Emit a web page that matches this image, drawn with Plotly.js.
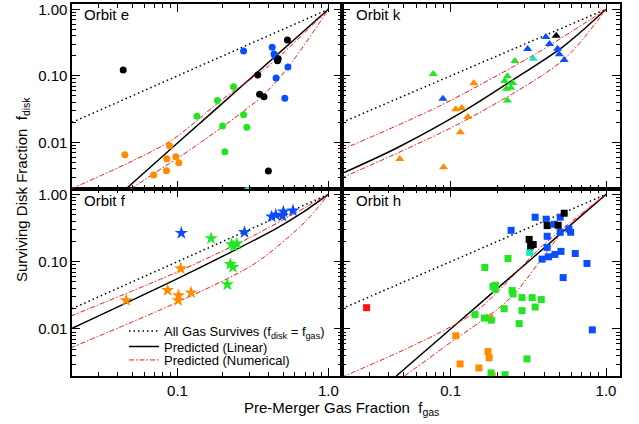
<!DOCTYPE html>
<html>
<head>
<meta charset="utf-8">
<script src="https://cdn.plot.ly/plotly-3.0.1.min.js"></script>
<style>html,body{margin:0;padding:0;background:#fff;}#chart{width:639px;height:424px;}</style>
</head>
<body>
<div id="chart"></div>
<script>
// ---------- DATA ----------
// Reference 1:1 line (all gas survives)
const oneToOneX = [0.02, 1.0];
const oneToOneY = [0.02, 1.0];

// ----- Orbit e (circles) -----
const eBlackX = [0.0437, 0.535, 0.34, 0.465, 0.46, 0.35, 0.374, 0.40];
const eBlackY = [0.123, 0.346, 0.103, 0.18, 0.168, 0.053, 0.0487, 0.00373];
const eBlueX = [0.274, 0.424, 0.436, 0.443, 0.539, 0.45, 0.514];
const eBlueY = [0.237, 0.269, 0.213, 0.194, 0.136, 0.093, 0.046];
const eGreenX = [0.235, 0.184, 0.1345, 0.199, 0.274, 0.288, 0.206];
const eGreenY = [0.0688, 0.0425, 0.0247, 0.0177, 0.0261, 0.0169, 0.00728];
const eCyanX = [0.29];
const eCyanY = [0.0019];
const eOrangeX = [0.0448, 0.0885, 0.0849, 0.0975, 0.102, 0.0845, 0.0695];
const eOrangeY = [0.00656, 0.00895, 0.00571, 0.00612, 0.00497, 0.00377, 0.00325];
const eLinX = [0.0455, 0.1, 0.3, 1.0];
const eLinY = [0.002, 0.0098, 0.089, 1.0];
const eNumUpX = [0.0196, 0.0885, 0.2, 0.4, 0.7, 1.0];
const eNumUpY = [0.002, 0.0103, 0.045, 0.14, 0.45, 1.0];
const eNumLoX = [0.049, 0.0703, 0.13, 0.361, 0.544, 1.0];
const eNumLoY = [0.002, 0.00345, 0.00865, 0.0487, 0.137, 1.0];

// ----- Orbit k (triangles) -----
const kBlackX = [0.478];
const kBlackY = [0.402];
const kBlueX = [0.41, 0.433, 0.313, 0.488, 0.50, 0.538, 0.0892];
const kBlueY = [0.384, 0.301, 0.253, 0.256, 0.211, 0.173, 0.0455];
const kCyanX = [0.34];
const kCyanY = [0.181];
const kGreenX = [0.259, 0.0773, 0.232, 0.223, 0.251, 0.244, 0.229, 0.232];
const kGreenY = [0.1675, 0.107, 0.0986, 0.0838, 0.0782, 0.0665, 0.0643, 0.0425];
const kOrangeX = [0.141, 0.108, 0.118, 0.129, 0.1155, 0.0471, 0.0901];
const kOrangeY = [0.0774, 0.0315, 0.033, 0.0242, 0.0142, 0.00565, 0.00425];
const kLinX = [0.0197, 0.0447, 0.12, 0.246, 0.53, 1.0];
const kLinY = [0.00336, 0.00818, 0.029, 0.0838, 0.275, 1.0];
const kNumUpX = [0.0197, 0.0849, 0.357, 1.0];
const kNumUpY = [0.0077, 0.0353, 0.218, 1.0];
const kNumLoX = [0.0197, 0.12, 0.53, 1.0];
const kNumLoY = [0.0029, 0.0205, 0.173, 1.0];

// ----- Orbit f (stars) -----
const fBlueX = [0.106, 0.278, 0.421, 0.448, 0.503, 0.496, 0.582];
const fBlueY = [0.266, 0.273, 0.466, 0.494, 0.553, 0.478, 0.573];
const fGreenX = [0.167, 0.228, 0.247, 0.236, 0.224, 0.233, 0.214];
const fGreenY = [0.222, 0.181, 0.1845, 0.170, 0.0918, 0.0828, 0.0457];
const fOrangeX = [0.105, 0.086, 0.123, 0.1016, 0.101, 0.0457];
const fOrangeY = [0.0792, 0.0376, 0.0347, 0.0316, 0.0266, 0.0266];
const fLinX = [0.0196, 0.1, 0.228, 0.45, 0.668, 1.0];
const fLinY = [0.01, 0.056, 0.14, 0.31, 0.53, 1.0];
const fNumUpX = [0.0196, 0.106, 0.326, 1.0];
const fNumUpY = [0.0155, 0.0746, 0.249, 1.0];
const fNumLoX = [0.0196, 0.1, 0.326, 0.703, 1.0];
const fNumLoY = [0.00524, 0.025, 0.094, 0.393, 1.0];

// ----- Orbit h (squares) -----
const hRedX = [0.0288];
const hRedY = [0.0207];
const hBlackX = [0.538, 0.418, 0.492, 0.32, 0.327, 0.34];
const hBlackY = [0.524, 0.343, 0.347, 0.214, 0.172, 0.18];
const hCyanX = [0.323];
const hCyanY = [0.137];
const hBlueX = [0.35, 0.412, 0.464, 0.507, 0.245, 0.577, 0.507, 0.592, 0.418, 0.418, 0.513, 0.469, 0.427, 0.388, 0.634, 0.754, 0.53, 0.816];
const hBlueY = [0.457, 0.427, 0.359, 0.457, 0.292, 0.305, 0.273, 0.273, 0.238, 0.163, 0.142, 0.128, 0.118, 0.109, 0.132, 0.094, 0.058, 0.0097];
const hGreenX = [0.234, 0.166, 0.1875, 0.194, 0.193, 0.249, 0.252, 0.288, 0.335, 0.383, 0.35, 0.288, 0.221, 0.1435, 0.165, 0.183, 0.276, 0.31, 0.182, 0.224];
const hGreenY = [0.1116, 0.0819, 0.043, 0.0446, 0.0385, 0.0372, 0.0331, 0.0292, 0.0292, 0.0273, 0.0212, 0.0187, 0.02, 0.0163, 0.0145, 0.0135, 0.012, 0.00359, 0.00222, 0.00209];
const hOrangeX = [0.178, 0.108, 0.174, 0.177, 0.115, 0.152, 0.185];
const hOrangeY = [0.0147, 0.00792, 0.00461, 0.00372, 0.00302, 0.00263, 0.00202];
const hLinX = [0.0447, 0.1, 0.3, 1.0];
const hLinY = [0.002, 0.01, 0.09, 1.0];
const hNumUpX = [0.0197, 0.139, 0.394, 1.0];
const hNumUpY = [0.0019, 0.0169, 0.176, 1.0];
const hNumLoX = [0.0505, 0.0938, 0.24, 0.53, 1.0];
const hNumLoY = [0.002, 0.00567, 0.0282, 0.279, 1.0];

// Tick labels
const xTickVals = [0.1, 1.0];
const xTickText = ['0.1', '1.0'];
const yTickVals = [0.01, 0.1, 1.0];
const yTickText = ['0.01', '0.10', '1.00'];
const xMinorVals = [0.03,0.04,0.05,0.06,0.07,0.08,0.09,0.2,0.3,0.4,0.5,0.6,0.7,0.8,0.9];
const yMinorVals = [0.002,0.003,0.004,0.005,0.006,0.007,0.008,0.009,0.02,0.03,0.04,0.05,0.06,0.07,0.08,0.09,0.2,0.3,0.4,0.5,0.6,0.7,0.8,0.9];

// ---------- STYLE ----------
const COL = {black:'#000000', blue:'#0a4dff', green:'#22e622', orange:'#ff8c00', cyan:'#16e6c0', red:'#ff1010'};
const FONT = 'Liberation Sans, Arial, Helvetica, sans-serif';
const DOT = '1.5px,3px';
const DASHDOT = '5px,2px,1.5px,2px';

const traces = [];
function pts(x, y, color, symbol, size, xa, ya) {
  traces.push({x:x, y:y, type:'scatter', mode:'markers', xaxis:xa, yaxis:ya, showlegend:false,
    marker:{color:color, symbol:symbol, size:size, line:{width:0}}, hoverinfo:'skip'});
}
function lines(lin, up, lo, xa, ya, legend) {
  traces.push({x:oneToOneX, y:oneToOneY, type:'scatter', mode:'lines', xaxis:xa, yaxis:ya,
    line:{color:'#000', width:1.5, dash:DOT}, showlegend:legend, legend:'legend',
    name:'All Gas Survives (f<sub>disk</sub> = f<sub>gas</sub>)'});
  traces.push({x:lin[0], y:lin[1], type:'scatter', mode:'lines', xaxis:xa, yaxis:ya,
    line:{color:'#000', width:1.5, shape:'spline', smoothing:0.8}, showlegend:legend, legend:'legend2', name:'Predicted (Linear)'});
  traces.push({x:up[0], y:up[1], type:'scatter', mode:'lines', xaxis:xa, yaxis:ya,
    line:{color:COL.red, width:1, dash:DASHDOT, shape:'spline', smoothing:0.8}, showlegend:legend, legend:'legend3', name:'Predicted (Numerical)'});
  traces.push({x:lo[0], y:lo[1], type:'scatter', mode:'lines', xaxis:xa, yaxis:ya,
    line:{color:COL.red, width:1, dash:DASHDOT, shape:'spline', smoothing:0.8}, showlegend:false});
}

// Orbit e : top-left (x3,y3)
lines([eLinX,eLinY],[eNumUpX,eNumUpY],[eNumLoX,eNumLoY],'x3','y3',false);
pts(eOrangeX,eOrangeY,COL.orange,'circle',7,'x3','y3');
pts(eGreenX,eGreenY,COL.green,'circle',7,'x3','y3');
pts(eCyanX,eCyanY,COL.cyan,'circle',7,'x3','y3');
pts(eBlueX,eBlueY,COL.blue,'circle',7,'x3','y3');
pts(eBlackX,eBlackY,COL.black,'circle',7,'x3','y3');
// Orbit k : top-right (x4,y4)
lines([kLinX,kLinY],[kNumUpX,kNumUpY],[kNumLoX,kNumLoY],'x4','y4',false);
pts(kOrangeX,kOrangeY,COL.orange,'triangle-up',8,'x4','y4');
pts(kGreenX,kGreenY,COL.green,'triangle-up',8,'x4','y4');
pts(kCyanX,kCyanY,COL.cyan,'triangle-up',8,'x4','y4');
pts(kBlueX,kBlueY,COL.blue,'triangle-up',8,'x4','y4');
pts(kBlackX,kBlackY,COL.black,'triangle-up',8,'x4','y4');
// Orbit f : bottom-left (x,y)
lines([fLinX,fLinY],[fNumUpX,fNumUpY],[fNumLoX,fNumLoY],'x','y',true);
pts(fOrangeX,fOrangeY,COL.orange,'star',10,'x','y');
pts(fGreenX,fGreenY,COL.green,'star',10,'x','y');
pts(fBlueX,fBlueY,COL.blue,'star',10,'x','y');
// Orbit h : bottom-right (x2,y2)
lines([hLinX,hLinY],[hNumUpX,hNumUpY],[hNumLoX,hNumLoY],'x2','y2',false);
pts(hOrangeX,hOrangeY,COL.orange,'square',7,'x2','y2');
pts(hGreenX,hGreenY,COL.green,'square',7,'x2','y2');
pts(hCyanX,hCyanY,COL.cyan,'square',7,'x2','y2');
pts(hBlueX,hBlueY,COL.blue,'square',7,'x2','y2');
pts(hBlackX,hBlackY,COL.black,'square',7,'x2','y2');
pts(hRedX,hRedY,COL.red,'square',7,'x2','y2');

// ---------- LAYOUT ----------
const W = 639, H = 424;
const xL = [72/W, 342/W], xR = [342/W, 620/W];
const yT = [1-189/H, 1-4/H], yB = [1-376/H, 1-189/H];
const XR = [Math.log10(0.02), Math.log10(1.23)];
const YR = [Math.log10(0.002), Math.log10(1.2)];

function xaxis(dom, anchor, labels) {
  return {type:'log', domain:dom, anchor:anchor, range:XR, showgrid:false, zeroline:false,
    showline:true, linecolor:'#000', linewidth:1.6, mirror:'ticks',
    ticks:'inside', ticklen:8, tickwidth:1, tickcolor:'#000',
    tickmode:'array', tickvals:xTickVals, ticktext:xTickText, showticklabels:labels,
    tickfont:{family:FONT, size:15, color:'#000'},
    minor:{tickmode:'array', tickvals:xMinorVals, ticks:'inside', ticklen:4, tickwidth:1, tickcolor:'#000', showgrid:false}};
}
function yaxis(dom, anchor, labels) {
  return {type:'log', domain:dom, anchor:anchor, range:YR, showgrid:false, zeroline:false,
    showline:true, linecolor:'#000', linewidth:1.6, mirror:'ticks',
    ticks:'inside', ticklen:8, tickwidth:1, tickcolor:'#000',
    tickmode:'array', tickvals:yTickVals, ticktext:yTickText, showticklabels:labels,
    tickfont:{family:FONT, size:15, color:'#000'},
    minor:{tickmode:'array', tickvals:yMinorVals, ticks:'inside', ticklen:4, tickwidth:1, tickcolor:'#000', showgrid:false}};
}
function legendAt(yPx) {
  return {x:124/W, y:1-yPx/H, xanchor:'left', yanchor:'middle', bgcolor:'rgba(0,0,0,0)',
    font:{family:FONT, size:13, color:'#000'}, borderwidth:0, itemwidth:30};
}

const layout = {
  width:W, height:H, margin:{l:0,r:0,t:0,b:0}, paper_bgcolor:'#fff', plot_bgcolor:'#fff',
  font:{family:FONT, color:'#000'},
  xaxis: xaxis(xL,'y',true), yaxis: yaxis(yB,'x',true),
  xaxis2: xaxis(xR,'y2',true), yaxis2: yaxis(yB,'x2',false),
  xaxis3: xaxis(xL,'y3',false), yaxis3: yaxis(yT,'x3',true),
  xaxis4: xaxis(xR,'y4',false), yaxis4: yaxis(yT,'x4',false),
  showlegend:true,
  legend: legendAt(331), legend2: legendAt(346.5), legend3: legendAt(360),
  annotations:[
    {text:'Orbit e', x:82/W, y:1-15/H, xref:'paper', yref:'paper', xanchor:'left', yanchor:'middle', showarrow:false, font:{family:FONT,size:15}},
    {text:'Orbit k', x:354/W, y:1-15/H, xref:'paper', yref:'paper', xanchor:'left', yanchor:'middle', showarrow:false, font:{family:FONT,size:15}},
    {text:'Orbit f', x:82/W, y:1-200/H, xref:'paper', yref:'paper', xanchor:'left', yanchor:'middle', showarrow:false, font:{family:FONT,size:15}},
    {text:'Orbit h', x:354/W, y:1-200/H, xref:'paper', yref:'paper', xanchor:'left', yanchor:'middle', showarrow:false, font:{family:FONT,size:15}},
    {text:'Pre-Merger Gas Fraction  f<sub>gas</sub>', x:342/W, y:1-408/H, xref:'paper', yref:'paper', xanchor:'center', yanchor:'middle', showarrow:false, font:{family:FONT,size:15}},
    {text:'Surviving Disk Fraction  f<sub>disk</sub>', x:22/W, y:1-190/H, xref:'paper', yref:'paper', xanchor:'center', yanchor:'middle', textangle:-90, showarrow:false, font:{family:FONT,size:15}}
  ]
};

Plotly.newPlot('chart', traces, layout, {staticPlot:true, displayModeBar:false});
</script>
</body>
</html>
